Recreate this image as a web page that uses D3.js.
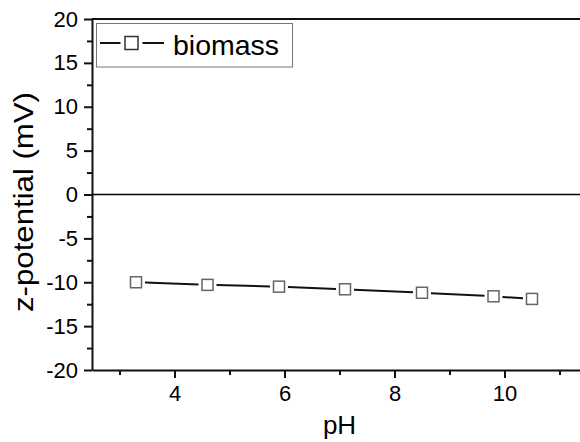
<!DOCTYPE html>
<html>
<head>
<meta charset="utf-8">
<script src="https://cdn.jsdelivr.net/npm/d3@7"></script>
<style>
    body { margin: 0; background: #fff; }
    text { font-family: "Liberation Sans", Arial, sans-serif; fill: #000; }
</style>
</head>
<body>
<div id="box-div"></div>
<script>
// data
const phValues = [3.3, 4.6, 5.9, 7.1, 8.5, 9.8, 10.5]
const biomassValues = [-10.0, -10.3, -10.5, -10.8, -11.2, -11.6, -11.9]
const xMajorTicks = [4, 6, 8, 10]
const xMinorTicks = [3, 5, 7, 9, 11]
const yMajorTicks = [-20, -15, -10, -5, 0, 5, 10, 15, 20]
const yMinorTicks = [-17.5, -12.5, -7.5, -2.5, 2.5, 7.5, 12.5, 17.5]
const seriesName = 'biomass'

let dms = {
    width: 580,
    height: 442,
    margin: { top: 19, right: 0, bottom: 72, left: 92 }
}
dms.chartHeight = dms.height - dms.margin.top - dms.margin.bottom

const box = d3.select('#box-div').append('svg')
    .attr('width', dms.width)
    .attr('height', dms.height)

const content = box.append('g')
    .attr('transform', `translate(${dms.margin.left}, ${dms.margin.top})`)

// x runs past the right edge, the frame is cut off there
const xScale = d3.scaleLinear().domain([2.5, 11.5]).range([0, 495])
const yScale = d3.scaleLinear().domain([-20, 20]).range([dms.chartHeight, 0])

const fmt = d => (d < 0 ? '-' + Math.abs(d) : String(d))

// zero line
content.append('line')
    .attr('x1', 0).attr('x2', 495)
    .attr('y1', yScale(0)).attr('y2', yScale(0))
    .attr('stroke', '#000').attr('stroke-width', 1.6)

// top frame
content.append('line')
    .attr('x1', 0).attr('x2', 495)
    .attr('y1', 0).attr('y2', 0)
    .attr('stroke', '#111').attr('stroke-width', 2)

// axes
const xAxis = content.append('g')
    .attr('transform', `translate(0, ${dms.chartHeight})`)
xAxis.call(d3.axisBottom(xScale).tickValues(xMajorTicks).tickSize(8).tickPadding(7).tickSizeOuter(0).tickFormat(fmt))
xAxis.append('g')
    .call(d3.axisBottom(xScale).tickValues(xMinorTicks).tickSize(5).tickFormat('').tickSizeOuter(0))
    .select('.domain').remove()

const yAxis = content.append('g')
yAxis.call(d3.axisLeft(yScale).tickValues(yMajorTicks).tickSize(8).tickPadding(6).tickSizeOuter(0).tickFormat(fmt))
yAxis.append('g')
    .call(d3.axisLeft(yScale).tickValues(yMinorTicks).tickSize(5).tickFormat('').tickSizeOuter(0))
    .select('.domain').remove()

content.selectAll('.domain').attr('stroke', '#111').attr('stroke-width', 2)
content.selectAll('.tick line').attr('stroke', '#111').attr('stroke-width', 2)
content.selectAll('.tick text')
    .style('font-size', '22px')
    .style('font-family', '"Liberation Sans", Arial, sans-serif')
    .attr('fill', '#000')

// axis titles
box.append('text')
    .attr('x', dms.margin.left + xScale(7))
    .attr('y', 434)
    .attr('text-anchor', 'middle')
    .style('font-size', '26px')
    .text('pH')

box.append('text')
    .attr('transform', `translate(33, 202) rotate(-90)`)
    .attr('text-anchor', 'middle')
    .attr('textLength', 220)
    .attr('lengthAdjust', 'spacingAndGlyphs')
    .style('font-size', '28px')
    .text('z-potential (mV)')

// series: segments leave a small gap round each marker
const points = phValues.map((p, i) => ({ x: xScale(p), y: yScale(biomassValues[i]) }))
const gap = 9
const segs = d3.pairs(points).map(([a, b]) => {
    const dx = b.x - a.x, dy = b.y - a.y
    const len = Math.hypot(dx, dy)
    const ux = dx / len, uy = dy / len
    return [a.x + ux * gap, a.y + uy * gap, b.x - ux * gap, b.y - uy * gap]
})

content.selectAll('line.seg')
    .data(segs)
    .join('line')
    .attr('class', 'seg')
    .attr('x1', d => d[0]).attr('y1', d => d[1])
    .attr('x2', d => d[2]).attr('y2', d => d[3])
    .attr('stroke', '#111')
    .attr('stroke-width', 2)

const sq = 11
content.selectAll('rect.pt')
    .data(points)
    .join('rect')
    .attr('class', 'pt')
    .attr('x', d => d.x - sq / 2)
    .attr('y', d => d.y - sq / 2)
    .attr('width', sq).attr('height', sq)
    .attr('fill', '#fff')
    .attr('stroke', '#666')
    .attr('stroke-width', 1.5)

// legend
const legend = box.append('g').attr('transform', 'translate(96.5, 23.5)')
legend.append('rect')
    .attr('width', 196).attr('height', 43.5)
    .attr('fill', '#fff')
    .attr('stroke', '#777').attr('stroke-width', 1)
legend.append('line')
    .attr('x1', 3.5).attr('x2', 24)
    .attr('y1', 19.5).attr('y2', 19.5)
    .attr('stroke', '#111').attr('stroke-width', 2)
legend.append('line')
    .attr('x1', 46).attr('x2', 67.5)
    .attr('y1', 19.5).attr('y2', 19.5)
    .attr('stroke', '#111').attr('stroke-width', 2)
legend.append('rect')
    .attr('x', 28.5).attr('y', 13)
    .attr('width', 13).attr('height', 13)
    .attr('fill', '#fff').attr('stroke', '#333').attr('stroke-width', 1.5)
legend.append('text')
    .attr('x', 76.5).attr('y', 31.5)
    .style('font-size', '28.5px')
    .text(seriesName)
</script>
</body>
</html>
